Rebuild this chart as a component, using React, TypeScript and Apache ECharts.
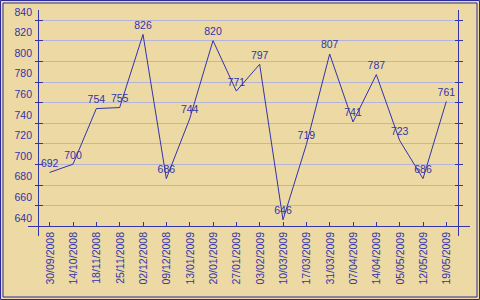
import React, { useEffect, useRef } from "react";
import * as echarts from "echarts";

const categories = [
  "30/09/2008", "14/10/2008", "18/11/2008", "25/11/2008", "02/12/2008", "09/12/2008",
  "13/01/2009", "20/01/2009", "27/01/2009", "03/02/2009", "10/03/2009", "17/03/2009",
  "31/03/2009", "07/04/2009", "14/04/2009", "05/05/2009", "12/05/2009", "19/05/2009",
];
const values = [692, 700, 754, 755, 826, 686, 744, 820, 771, 797, 646, 719, 807, 741, 787, 723, 686, 761];
const yMin = 640;
const yMax = 840;
const yStep = 20;

const BLUE = "#3333aa";
const FONT = "Liberation Sans, Arial, sans-serif";

export default function App() {
  const ref = useRef<HTMLDivElement>(null);
  useEffect(() => {
    if (!ref.current) return;
    const chart = echarts.init(ref.current, null, { renderer: "svg" });
    const baseY = { type: "value", min: yMin, max: yMax, interval: yStep, scale: true };
    const L = 38, R = 458, T = 20, B = 226;
    chart.setOption({
      animation: false,
      backgroundColor: "#ecd9a4",
      grid: { left: L, right: 480 - R, top: T, bottom: 300 - B, containLabel: false },
      xAxis: {
        type: "category",
        data: categories,
        boundaryGap: true,
        axisLine: { show: false },
        axisTick: { show: true, inside: true, length: 4, alignWithLabel: true, lineStyle: { color: BLUE, width: 1 } },
        axisLabel: { interval: 0, rotate: 90, margin: 6, color: BLUE, fontSize: 10.5, fontFamily: FONT },
        splitLine: { show: false },
      },
      yAxis: [
        {
          ...baseY,
          position: "left",
          axisLine: { show: false },
          axisTick: { show: true, inside: true, length: 5, lineStyle: { color: BLUE } },
          axisLabel: {
            color: BLUE, fontSize: 10.5, fontFamily: FONT, margin: 6,
            verticalAlign: "bottom", padding: [0, 0, 3, 0],
          },
          splitLine: { show: true, lineStyle: { color: "#b4b4d8", width: 1 } },
        },
        {
          ...baseY,
          position: "left",
          axisLine: { show: false },
          axisTick: { show: true, inside: false, length: 3, lineStyle: { color: BLUE } },
          axisLabel: { show: false },
          splitLine: { show: false },
        },
        {
          ...baseY,
          position: "right",
          axisLine: { show: false },
          axisTick: { show: true, inside: false, length: 5, lineStyle: { color: BLUE } },
          axisLabel: { show: false },
          splitLine: { show: false },
        },
        {
          ...baseY,
          position: "right",
          axisLine: { show: false },
          axisTick: { show: true, inside: true, length: 3, lineStyle: { color: BLUE } },
          axisLabel: { show: false },
          splitLine: { show: false },
        },
      ],
      series: [
        {
          type: "line",
          data: values,
          yAxisIndex: 0,
          showSymbol: true,
          symbol: "circle",
          symbolSize: 2,
          lineStyle: { color: BLUE, width: 1 },
          itemStyle: { color: "rgba(0,0,0,0)", borderWidth: 0 },
          label: {
            show: true, position: "top", distance: 3,
            color: BLUE, fontSize: 10.5, fontFamily: FONT,
          },
          z: 5,
        },
      ],
      graphic: [
        { type: "line", shape: { x1: 28, y1: B + 0.5, x2: 470, y2: B + 0.5 }, style: { stroke: BLUE, lineWidth: 1 }, z: 10 },
        { type: "line", shape: { x1: L + 0.5, y1: 10, x2: L + 0.5, y2: 236 }, style: { stroke: BLUE, lineWidth: 1 }, z: 10 },
        { type: "line", shape: { x1: R + 0.5, y1: 10, x2: R + 0.5, y2: 236 }, style: { stroke: BLUE, lineWidth: 1 }, z: 10 },
        { type: "rect", shape: { x: 0.5, y: 0.5, width: 479, height: 299 }, style: { fill: "none", stroke: "#2a2a9c", lineWidth: 1 }, z: 10 },
        { type: "rect", shape: { x: 3, y: 3, width: 474, height: 294 }, style: { fill: "none", stroke: "#2a2a9c", lineWidth: 1 }, z: 10 },
      ],
    });
    return () => chart.dispose();
  }, []);
  return <div ref={ref} style={{ position: "fixed", left: 0, top: 0, width: 480, height: 300 }} />;
}
